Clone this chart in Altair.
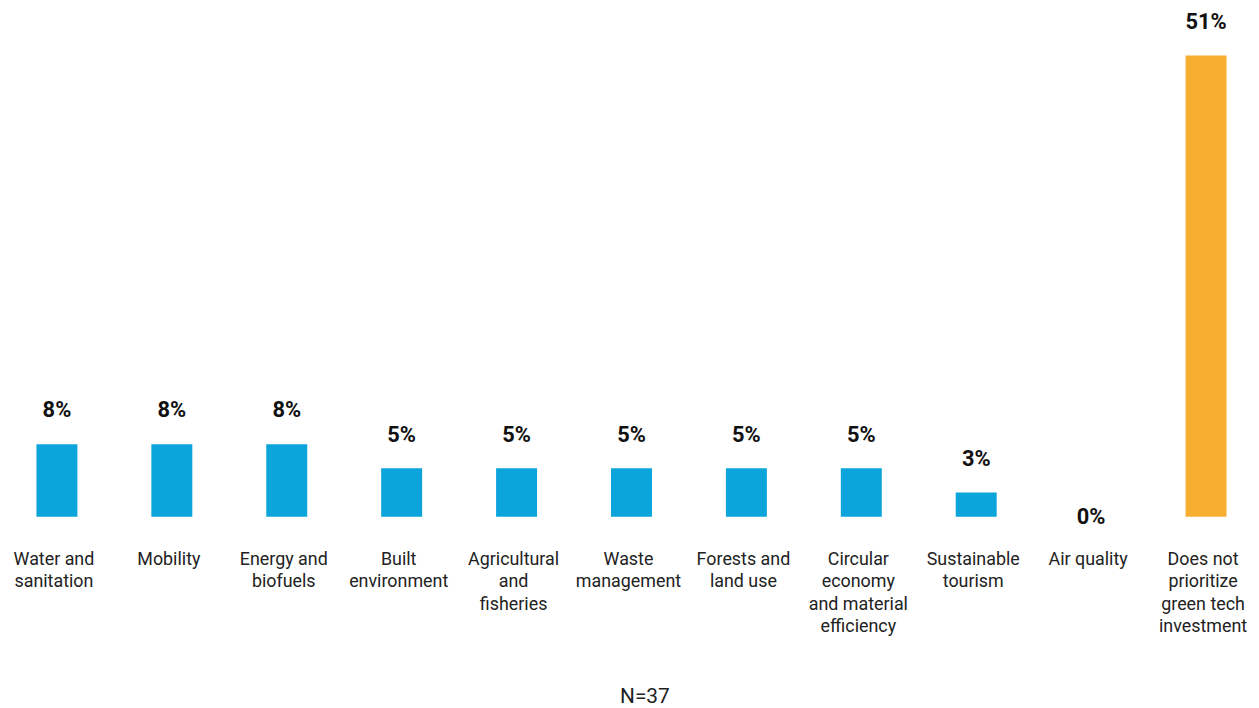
import altair as alt
import pandas as pd

categories = [
    "Water and|sanitation", "Mobility", "Energy and|biofuels", "Built|environment",
    "Agricultural|and|fisheries", "Waste|management", "Forests and|land use",
    "Circular|economy|and material|efficiency", "Sustainable|tourism", "Air quality",
    "Does not|prioritize|green tech|investment",
]
values = [8.1, 8.1, 8.1, 5.4, 5.4, 5.4, 5.4, 5.4, 2.7, 0.0, 51.4]
labels = ["8%", "8%", "8%", "5%", "5%", "5%", "5%", "5%", "3%", "0%", "51%"]
groups = ["Prioritized"] * 10 + ["Not prioritized"]

df = pd.DataFrame({"category": categories, "value": values, "label": labels, "group": groups})

FONT = "Roboto"

x = alt.X(
    "category:N", sort=None,
    scale=alt.Scale(paddingInner=0.6435, paddingOuter=0.213, round=False),
    axis=alt.Axis(
        title="N=37", labelExpr="split(datum.label, '|')", labelAngle=0,
        labelFont=FONT, labelFontSize=18, labelColor="#222222", labelLineHeight=22.5,
        labelPadding=43, labelBaseline="middle", labelOffset=-3,
        domain=False, ticks=False, grid=False,
        titleFont=FONT, titleFontSize=21, titleFontWeight="normal", titleColor="#222222",
        titleX=637, titleY=181, titleBaseline="middle", titleAnchor="middle",
    ),
)
y = alt.Y("value:Q", scale=alt.Scale(domain=[0, 56.4], nice=False), axis=None)

base = alt.Chart(df)

bars = base.mark_bar().encode(
    x=x, y=y,
    color=alt.Color("group:N", scale=alt.Scale(domain=["Prioritized", "Not prioritized"],
                                               range=["#0BA5DC", "#F7AE31"]), legend=None),
)

text = base.transform_filter("datum.value > 0").mark_text(
    font=FONT, fontSize=22, fontWeight="bold", color="#111111", baseline="alphabetic", dy=-27
).encode(x=x, y=y, text="label:N")

text0 = base.transform_filter("datum.value == 0").mark_text(
    font=FONT, fontSize=22, fontWeight="bold", color="#111111", baseline="alphabetic", dy=7
).encode(x=x, y=y, text="label:N")

chart = (bars + text + text0).properties(
    width=1248, height=510,
    autosize=alt.AutoSizeParams(type="none"),
    padding={"left": 4, "top": 0, "right": 0, "bottom": 190},
).configure(background="white").configure_view(stroke=None, strokeWidth=0)

chart.save("out.html", embed_options={"renderer": "svg", "actions": False})
